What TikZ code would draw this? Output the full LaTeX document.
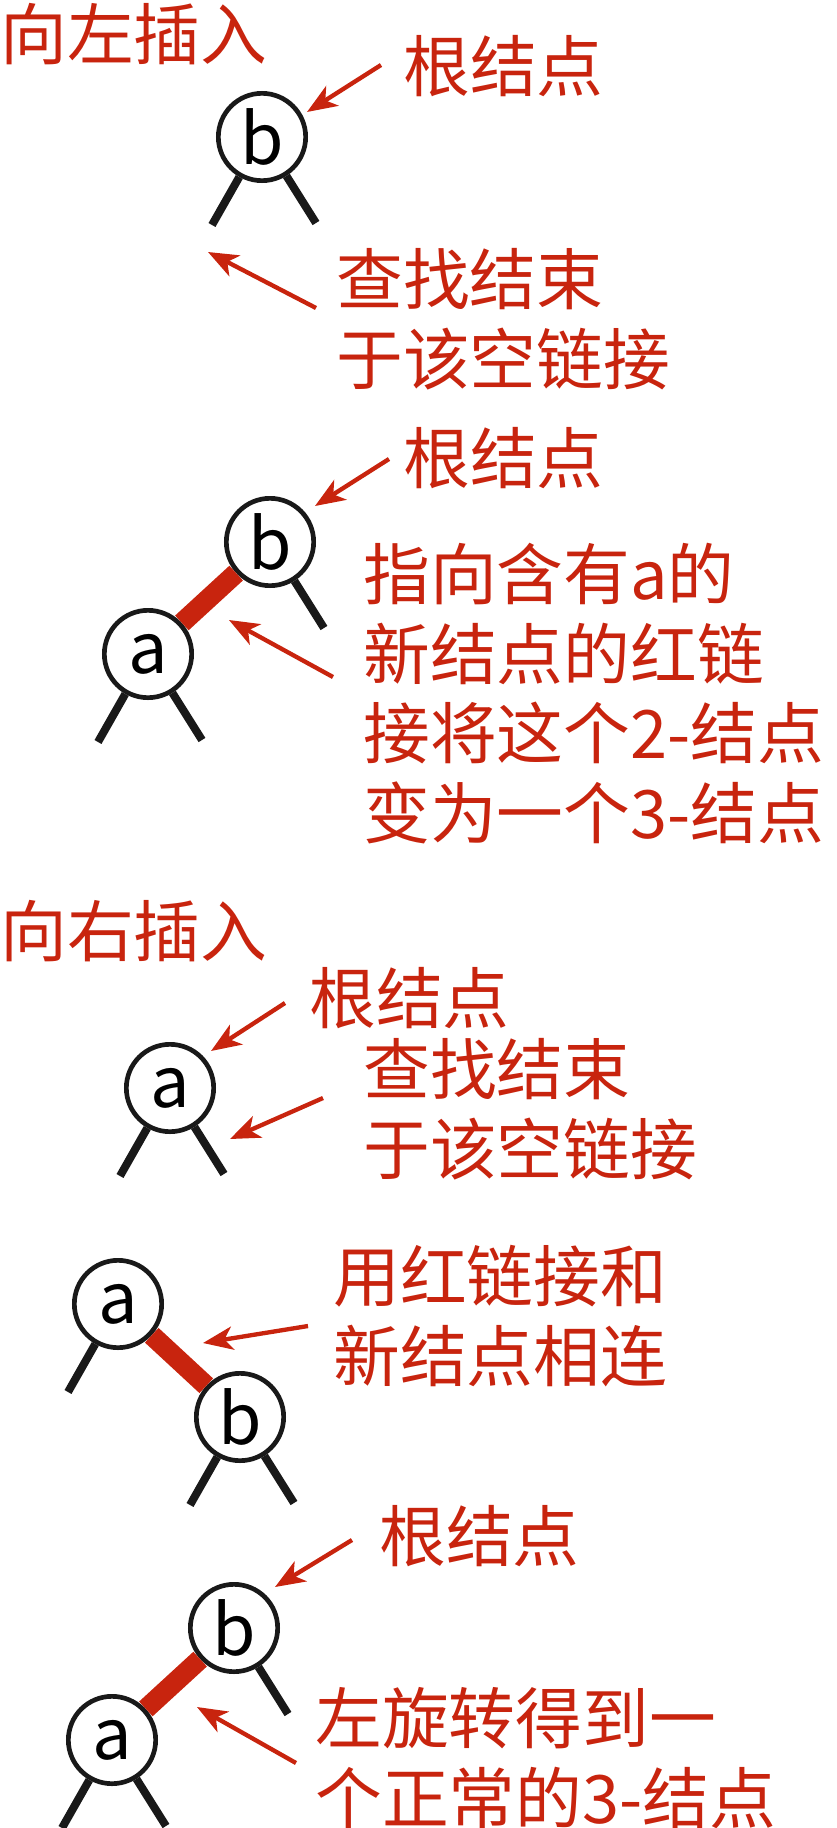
\documentclass[tikz,border=0pt]{standalone}
\usepackage{fontspec}
\setmainfont{Noto Sans CJK SC}
\usetikzlibrary{arrows.meta,calc}
\definecolor{linkred}{RGB}{200,36,14}

\begin{document}
\begin{tikzpicture}[x=0.3mm,y=-0.3mm,
  knot/.style={circle,draw=black!90,line width=1.4mm,fill=white,minimum size=26.2mm,inner sep=0pt,font=\fontsize{60}{60}\selectfont},
  note/.style={anchor=north west,inner sep=0pt,align=left,text=linkred,font=\fontsize{57}{68}\selectfont},
  leg/.style={line width=2.4mm,black!90},
  redlink/.style={line width=6mm,linkred},
  pointer/.style={line width=1.3mm,linkred,-{Stealth[length=9mm,width=7mm,inset=2.5mm]}}]
  \useasboundingbox (0,0) rectangle (837,1828);

  % left insert
  \node[note] (title1) at (0,3) {向左插入};
  \node[knot] (b1) at (262,137) {b};
  \node[note] (root1) at (403,35) {根结点};
  \node[note] (miss1) at (336,248) {查找结束\\于该空链接};

  \node[knot] (b2) at (270,542) {b};
  \node[knot] (a2) at (148,654) {a};
  \node[note] (root2) at (403,427) {根结点};
  \node[note] (new2) at (363,543) {指向含有a的\\新结点的红链\\接将这个2-结点\\变为一个3-结点};

  % right insert
  \node[note] (title2) at (0,900) {向右插入};
  \node[knot] (a3) at (170,1088) {a};
  \node[note] (root3) at (309,967) {根结点};
  \node[note] (miss3) at (363,1038) {查找结束\\于该空链接};

  \node[knot] (a4) at (118,1304) {a};
  \node[knot] (b4) at (240,1417) {b};
  \node[note] (new4) at (333,1245) {用红链接和\\新结点相连};

  \node[knot] (b5) at (234,1628) {b};
  \node[knot] (a5) at (112,1740) {a};
  \node[note] (root5) at (379,1505) {根结点};
  \node[note] (rot5) at (315,1687) {左旋转得到一\\个正常的3-结点};

  % red links
  \draw[redlink] (a2) -- (b2);
  \draw[redlink] (a4) -- (b4);
  \draw[redlink] (a5) -- (b5);

  % null links
  \foreach \n in {b1,a2,a3,a4,b4,a5}{
    \coordinate (\n-l) at ($(\n)+(-50,88)$);
    \draw[leg] (\n) -- (\n-l);
  }
  \foreach \n in {b1,b2,a2,a3,b4,b5,a5}{
    \coordinate (\n-r) at ($(\n)+(54,86)$);
    \draw[leg] (\n) -- (\n-r);
  }

  % arrows
  \foreach \i/\tx/\ty/\hx/\hy in {1/381/65/307/112,2/316/308/208/252,
      3/389/459/315/506,4/333/677/229/620,5/285/1003/211/1051,
      6/323/1098/230/1139,7/308/1326/203/1343,8/352/1540/275/1587,
      9/296/1763/197/1707}{
    \coordinate (p\i) at (\tx,\ty);
    \coordinate (q\i) at (\hx,\hy);
    \draw[pointer] (p\i) -- (q\i);
  }
\end{tikzpicture}
\end{document}
